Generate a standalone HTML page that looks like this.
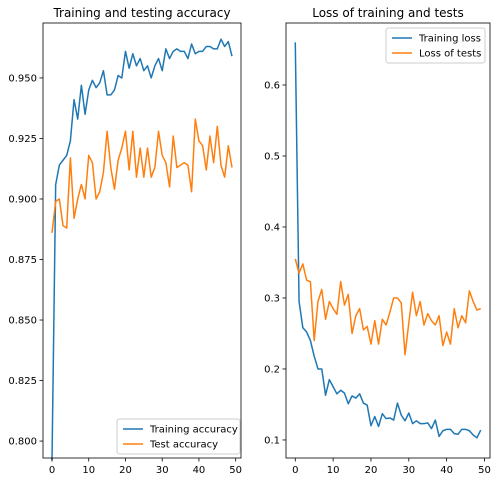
<!DOCTYPE html>
<html><head><meta charset="utf-8"><style>
body{margin:0;background:#fff;}
svg{display:block;font-family:"DejaVu Sans","Liberation Sans",sans-serif;}
</style></head><body>
<svg id="c" width="497" height="482"></svg>
<script>
const epochs=[...Array(50).keys()];
const trainAcc=[0.792,0.906,0.914,0.916,0.918,0.924,0.941,0.933,0.947,0.935,0.945,0.949,0.946,0.948,0.953,0.943,0.943,0.945,0.951,0.950,0.961,0.954,0.960,0.955,0.958,0.953,0.955,0.950,0.955,0.958,0.953,0.962,0.958,0.961,0.962,0.961,0.961,0.958,0.964,0.960,0.961,0.961,0.963,0.963,0.962,0.962,0.966,0.963,0.965,0.959];
const testAcc=[0.886,0.899,0.900,0.889,0.888,0.917,0.892,0.900,0.906,0.900,0.918,0.915,0.900,0.903,0.911,0.928,0.913,0.904,0.916,0.921,0.928,0.912,0.928,0.909,0.921,0.909,0.921,0.909,0.913,0.928,0.918,0.915,0.905,0.926,0.913,0.914,0.915,0.914,0.903,0.933,0.924,0.922,0.912,0.926,0.915,0.930,0.914,0.909,0.922,0.913];
const trainLoss=[0.66,0.295,0.258,0.252,0.24,0.218,0.20,0.20,0.163,0.185,0.175,0.165,0.170,0.166,0.151,0.162,0.159,0.165,0.152,0.149,0.120,0.133,0.119,0.137,0.130,0.131,0.128,0.152,0.135,0.127,0.138,0.123,0.127,0.123,0.123,0.124,0.116,0.128,0.105,0.113,0.115,0.115,0.109,0.108,0.115,0.115,0.113,0.107,0.103,0.114];
const testLoss=[0.355,0.335,0.348,0.325,0.323,0.240,0.295,0.312,0.270,0.295,0.285,0.277,0.323,0.290,0.305,0.250,0.275,0.285,0.255,0.260,0.235,0.268,0.235,0.270,0.262,0.280,0.300,0.300,0.293,0.220,0.265,0.308,0.275,0.295,0.262,0.278,0.268,0.262,0.275,0.233,0.252,0.235,0.285,0.258,0.275,0.265,0.310,0.295,0.283,0.285];
const xTicks=[0,10,20,30,40,50];
const accTicks=[0.800,0.825,0.850,0.875,0.900,0.925,0.950];
const lossTicks=[0.1,0.2,0.3,0.4,0.5,0.6];
const NS="http://www.w3.org/2000/svg";
const svg=document.getElementById('c');
function mk(t,a,p){const e=document.createElementNS(NS,t);for(const k in a)e.setAttribute(k,a[k]);(p||svg).appendChild(e);return e;}
function panel(o){
  const g=mk('g',{});
  
  
  const xs=v=>o.x0+(v-o.xmin)/(o.xmax-o.xmin)*(o.x1-o.x0);
  const ys=v=>o.y1-(v-o.ymin)/(o.ymax-o.ymin)*(o.y1-o.y0);
  o.series.forEach(s=>{
    const p=mk('polyline',{points:s.d.map((v,i)=>xs(epochs[i])+','+ys(v)).join(' '),fill:'none',stroke:s.c,'stroke-width':1.5,'stroke-linejoin':'round'},g);
    
    
  });
  const fr=mk('rect',{x:o.x0,y:o.y0,width:o.x1-o.x0,height:o.y1-o.y0,fill:'none',stroke:'#000','stroke-width':0.8},g);
  
  
  xTicks.forEach(t=>{const x=xs(t);mk('line',{x1:x,x2:x,y1:o.y1,y2:o.y1+3.5,stroke:'#000','stroke-width':0.8},g);
    const tx=mk('text',{x:x,y:o.y1+15,'font-size':10,'text-anchor':'middle',fill:'#000'},g);tx.textContent=t;
    });
  o.yt.forEach(t=>{const y=ys(t);mk('line',{x1:o.x0-3.5,x2:o.x0,y1:y,y2:y,stroke:'#000','stroke-width':0.8},g);
    const tx=mk('text',{x:o.x0-6,y:y+3.5,'font-size':10,'text-anchor':'end',fill:'#000'},g);tx.textContent=t.toFixed(o.dec);
    });
  const ti=mk('text',{x:(o.x0+o.x1)/2,y:o.y0-6,'font-size':12,'text-anchor':'middle',fill:'#000'},g);ti.textContent=o.title;
  
  const L=o.leg;
  const lg=mk('g',{},g);
  
  mk('rect',{x:L.x,y:L.y,width:L.w,height:35,rx:2.5,fill:'#fff','fill-opacity':0.8,stroke:'#ccc'},lg);
  o.series.forEach((s,i)=>{const yy=L.y+10+i*15;
    mk('line',{x1:L.x+6,x2:L.x+26,y1:yy,y2:yy,stroke:s.c,'stroke-width':1.5},lg);
    const t=mk('text',{x:L.x+33,y:yy+3.5,'font-size':10,fill:'#000'},lg);t.textContent=s.label;
    });
}
panel({name:'accuracy-panel',x0:43,x1:241,y0:23,y1:458,xmin:-2.45,xmax:51.45,ymin:0.793,ymax:0.9727,yt:accTicks,dec:3,title:'Training and testing accuracy',
  series:[{d:trainAcc,c:'#1f77b4',n:'training-accuracy-line',label:'Training accuracy'},{d:testAcc,c:'#ff7f0e',n:'test-accuracy-line',label:'Test accuracy'}],
  leg:{x:117,y:419,w:123}});
panel({name:'loss-panel',x0:286,x1:490,y0:23,y1:458,xmin:-2.45,xmax:51.45,ymin:0.0746,ymax:0.6873,yt:lossTicks,dec:1,title:'Loss of training and tests',
  series:[{d:trainLoss,c:'#1f77b4',n:'training-loss-line',label:'Training loss'},{d:testLoss,c:'#ff7f0e',n:'test-loss-line',label:'Loss of tests'}],
  leg:{x:386,y:28,w:99}});
</script>
</body></html>
